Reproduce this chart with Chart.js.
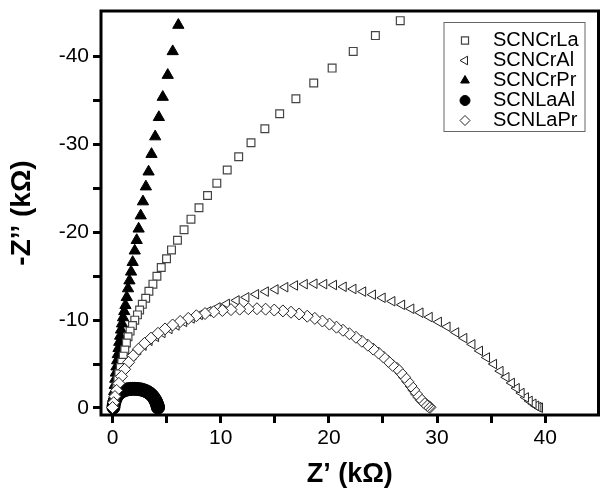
<!DOCTYPE html>
<html>
<head>
<meta charset="utf-8">
<script src="https://cdn.jsdelivr.net/npm/chart.js@4.4.0/dist/chart.umd.min.js"></script>
<style>
  html, body { margin: 0; background: #fff; }
  #wrap { width: 606px; height: 491px; }
</style>
</head>
<body>
<div id="wrap"><canvas id="myChart"></canvas></div>
<script>
// Z' and -Z'' in kOhm
const crLaRe = [0.12,0.21,0.3,0.39,0.49,0.58,0.72,0.85,0.99,1.13,1.28,1.43,1.62,1.84,2.05,2.3,2.5,2.75,3.06,3.36,3.73,4.1,4.5,4.99,5.45,6.0,6.61,7.25,7.99,8.78,9.64,10.6,11.66,12.8,14.08,15.45,16.95,18.6,20.3,22.25,24.3,26.6];
const crLaIm = [0.6,1.1,1.8,2.5,3.2,3.9,4.6,5.2,5.9,6.6,7.4,8.1,8.75,9.4,10.0,10.6,11.15,11.8,12.5,13.3,14.1,15.0,16.0,17.0,18.0,19.1,20.3,21.5,22.8,24.2,25.6,27.1,28.6,30.2,31.8,33.5,35.2,37.0,38.7,40.6,42.4,44.1];

const crAlRe = [0.05,0.12,0.25,0.42,0.62,0.85,1.15,1.5,1.9,2.35,2.85,3.4,4.0,4.6,5.25,5.9,6.6,7.3,8.05,8.85,9.7,10.55,11.45,12.35,13.25,14.15,15.05,15.95,16.85,17.75,18.65,19.55,20.45,21.35,22.25,23.15,24.05,24.95,25.85,26.75,27.6,28.45,29.3,30.15,30.95,31.75,32.5,33.25,33.95,34.6,35.25,35.85,36.4,36.9,37.35,37.8,38.2,38.55,38.9,39.15,39.35,39.5];
const crAlIm = [0.2,0.8,1.6,2.4,3.2,3.95,4.7,5.35,6.0,6.6,7.1,7.65,8.1,8.55,9.0,9.4,9.8,10.2,10.6,11.0,11.45,11.85,12.25,12.6,12.95,13.25,13.5,13.75,13.95,14.1,14.15,14.1,14.0,13.8,13.55,13.25,12.9,12.55,12.15,11.75,11.3,10.85,10.35,9.8,9.25,8.6,7.95,7.25,6.5,5.75,5.0,4.2,3.5,2.85,2.25,1.7,1.2,0.8,0.48,0.25,0.1,0.03];

const crPrRe = [0.05,0.1,0.15,0.2,0.25,0.3,0.36,0.42,0.48,0.55,0.62,0.7,0.78,0.87,0.97,1.08,1.19,1.31,1.43,1.56,1.71,1.86,2.05,2.23,2.41,2.6,2.81,3.08,3.33,3.6,3.94,4.28,4.64,5.1,5.56,6.08];
const crPrIm = [0.5,1.2,1.9,2.6,3.3,4.0,4.7,5.4,6.1,6.8,7.5,8.2,8.9,9.6,10.3,11.0,11.7,12.6,13.6,14.5,15.5,16.6,17.9,19.1,20.4,21.9,23.5,25.2,26.9,28.9,30.9,33.1,35.4,37.9,40.6,43.6];

const laAlRe = [0.08,0.1,0.14,0.2,0.27,0.35,0.45,0.56,0.68,0.82,0.97,1.13,1.3,1.48,1.67,1.86,2.06,2.26,2.46,2.66,2.86,3.05,3.23,3.4,3.55,3.68,3.8,3.9,3.98,4.05,4.1,4.14,4.17,4.19,4.2];
const laAlIm = [0.05,0.3,0.55,0.8,1.03,1.25,1.44,1.6,1.74,1.86,1.96,2.04,2.1,2.14,2.17,2.18,2.18,2.17,2.14,2.1,2.03,1.94,1.83,1.7,1.55,1.38,1.2,1.0,0.82,0.64,0.48,0.33,0.2,0.1,0.03];

const laPrRe = [0.0,0.1,0.22,0.38,0.58,0.83,1.12,1.48,1.9,2.4,2.95,3.55,4.2,4.85,5.55,6.25,7.0,7.75,8.55,9.35,10.15,10.95,11.75,12.55,13.35,14.15,14.95,15.75,16.5,17.25,18.0,18.7,19.4,20.05,20.7,21.3,21.9,22.5,23.05,23.6,24.1,24.6,25.05,25.5,25.9,26.3,26.65,27.0,27.3,27.6,27.85,28.1,28.35,28.55,28.75,28.95,29.1,29.25,29.35];
const laPrIm = [0.05,0.6,1.3,2.0,2.8,3.6,4.4,5.2,5.95,6.7,7.35,7.95,8.5,9.0,9.45,9.85,10.2,10.5,10.75,10.95,11.1,11.2,11.25,11.3,11.3,11.25,11.15,11.05,10.9,10.7,10.45,10.2,9.9,9.55,9.2,8.85,8.45,8.05,7.6,7.15,6.7,6.25,5.8,5.3,4.85,4.5,4.0,3.5,3.0,2.5,2.05,1.6,1.2,0.9,0.65,0.45,0.28,0.15,0.07];

const xTickValues = [0, 10, 20, 30, 40];
const yTickValues = [0, 10, 20, 30, 40];

// points drawn from the far end back to the origin
function pts(re, im) {
    return re.map((x, i) => ({x: x, y: im[i]})).reverse();
}

const font = '"Liberation Sans", Arial, sans-serif';
Chart.defaults.font.family = font;
Chart.defaults.color = '#000';

// frame around the plot + boxed legend in the top right corner
const framePlugin = {
    id: 'frame',
    afterDatasetsDraw(chart) {
        const {ctx, chartArea: a} = chart;
        ctx.save();
        ctx.lineWidth = 3;
        ctx.strokeStyle = '#000';
        ctx.strokeRect(a.left, a.top, a.right - a.left, a.bottom - a.top);
        ctx.restore();
    },
    afterDraw(chart) {
        const ctx = chart.ctx;
        const a = chart.chartArea;
        const bx = a.right - 154.5, by = a.top + 11.5;
        ctx.save();
        ctx.lineWidth = 1;
        ctx.strokeStyle = '#666';
        ctx.strokeRect(bx, by, 141, 109);
        ctx.font = '20px ' + font;
        ctx.textBaseline = 'middle';
        chart.data.datasets.forEach((ds, i) => {
            const y = by + 18 + i * 20;
            ctx.fillStyle = ds.pointBackgroundColor;
            ctx.strokeStyle = ds.pointBorderColor;
            ctx.lineWidth = ds.pointBorderWidth;
            Chart.helpers.drawPoint(ctx, {
                pointStyle: ds.pointStyle,
                rotation: ds.pointRotation || 0,
                radius: 5,
                borderWidth: ds.pointBorderWidth
            }, bx + 21, y);
            ctx.fillStyle = '#000';
            ctx.fillText(ds.label, bx + 49, y);
        });
        ctx.restore();
    }
};

function noEdgePadding(s) {
    s.paddingTop = 0;
    s.paddingBottom = 0;
    s.paddingLeft = 0;
    s.paddingRight = 0;
}

const ctx = document.getElementById('myChart').getContext('2d');
const myChart = new Chart(ctx, {
    type: 'scatter',
    data: {
        datasets: [{
            label: 'SCNCrLa',
            data: pts(crLaRe, crLaIm),
            pointStyle: 'rect',
            pointRadius: 5.5,
            pointBackgroundColor: '#fff',
            pointBorderColor: '#444',
            pointBorderWidth: 1.2,
            order: 1
        }, {
            label: 'SCNCrAl',
            data: pts(crAlRe, crAlIm),
            pointStyle: 'triangle',
            pointRotation: -90,
            pointRadius: 5.5,
            pointBackgroundColor: '#fff',
            pointBorderColor: '#222',
            pointBorderWidth: 1,
            order: 2
        }, {
            label: 'SCNCrPr',
            data: pts(crPrRe, crPrIm),
            pointStyle: 'triangle',
            pointRadius: 6.5,
            pointBackgroundColor: '#000',
            pointBorderColor: '#000',
            pointBorderWidth: 1,
            order: 3
        }, {
            label: 'SCNLaAl',
            data: pts(laAlRe, laAlIm),
            pointStyle: 'circle',
            pointRadius: 6.5,
            pointBackgroundColor: '#000',
            pointBorderColor: '#000',
            pointBorderWidth: 1,
            order: 4
        }, {
            label: 'SCNLaPr',
            data: pts(laPrRe, laPrIm),
            pointStyle: 'rectRot',
            pointRadius: 6,
            pointBackgroundColor: '#fff',
            pointBorderColor: '#222',
            pointBorderWidth: 1,
            order: 0
        }]
    },
    options: {
        responsive: true,
        maintainAspectRatio: false,
        animation: false,
        events: [],
        layout: { padding: { top: 11, right: 4, left: 0, bottom: 0 } },
        plugins: {
            legend: { display: false },
            tooltip: { enabled: false }
        },
        scales: {
            x: {
                type: 'linear',
                min: -1.07,
                max: 44.93,
                border: { display: false },
                grid: { drawOnChartArea: false, drawTicks: true, tickLength: 8, tickWidth: 3, tickColor: '#000' },
                ticks: {
                    stepSize: 5,
                    includeBounds: false,
                    padding: 3,
                    maxRotation: 0,
                    autoSkip: false,
                    font: { size: 21 },
                    callback: (v) => xTickValues.includes(v) ? String(v) : ''
                },
                title: {
                    display: true,
                    text: 'Z’ (kΩ)',
                    font: { size: 27, weight: 'bold' },
                    padding: { top: 0, bottom: 0 }
                },
                afterFit: (s) => { s.height = 76; noEdgePadding(s); }
            },
            y: {
                type: 'linear',
                min: -0.8,
                max: 45.2,
                border: { display: false },
                grid: { drawOnChartArea: false, drawTicks: true, tickLength: 8, tickWidth: 3, tickColor: '#000' },
                ticks: {
                    stepSize: 5,
                    includeBounds: false,
                    padding: 4,
                    autoSkip: false,
                    font: { size: 21 },
                    callback: (v) => yTickValues.includes(v) ? (v === 0 ? '0' : '-' + v) : ''
                },
                afterBuildTicks: (s) => { s.ticks = s.ticks.filter(t => t.value <= 40); },
                title: {
                    display: true,
                    text: '-Z’’ (kΩ)',
                    font: { size: 28, weight: 'bold' },
                    padding: { top: 5, bottom: 0 }
                },
                afterFit: (s) => { s.width = 101; noEdgePadding(s); }
            }
        }
    },
    plugins: [framePlugin]
});
</script>
</body>
</html>
